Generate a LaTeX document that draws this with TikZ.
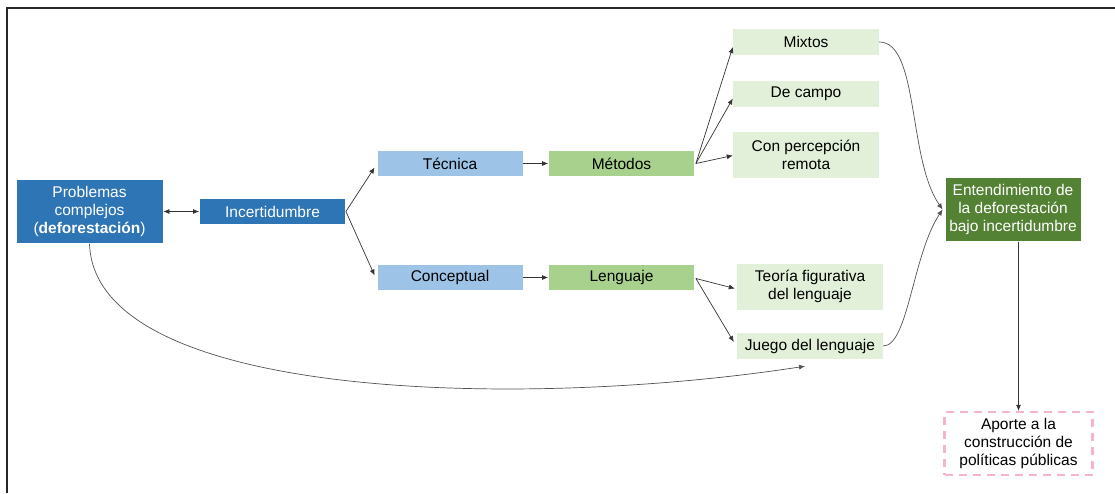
\documentclass[tikz,border=0pt]{standalone}
\usepackage{fontspec}
\setmainfont{Liberation Sans}
\usetikzlibrary{arrows.meta}
\definecolor{cblue}{HTML}{2E75B6}
\definecolor{clblue}{HTML}{9DC3E6}
\definecolor{cgreen}{HTML}{A9D18E}
\definecolor{clgreen}{HTML}{E2F0D9}
\definecolor{cdgreen}{HTML}{548235}
\definecolor{cpink}{HTML}{F2B6C8}
\definecolor{cline}{HTML}{333333}
\tikzset{
  box/.style={inner sep=0pt, align=center, font=\fontsize{15.5}{18}\selectfont, minimum width=146pt, minimum height=26pt},
  bluebox/.style={box, fill=cblue, draw=white, line width=0.8pt, text=white},
  lbluebox/.style={box, fill=clblue, draw=white, line width=0.8pt},
  greenbox/.style={box, fill=cgreen, draw=white, line width=0.8pt},
  lgreenbox/.style={box, fill=clgreen},
  dgreenbox/.style={box, fill=cdgreen, draw=white, line width=0.8pt, text=white},
  pinkbox/.style={box, draw=cpink, line width=2.4pt, dash pattern=on 8pt off 6pt},
  conn/.style={draw=cline, line width=0.7pt, -{Latex[length=6pt,width=5pt]}},
  curv/.style={draw=cline!85!white, line width=0.7pt, -{Latex[length=6pt,width=5pt]}}
}
\begin{document}
\begin{tikzpicture}[x=1pt,y=-1pt]
\useasboundingbox (0,0) rectangle (1115,493);
\draw[line width=1.6pt, color=black!85] (7,493) -- (7,8) -- (1115,8);

\node[bluebox, minimum width=147pt, minimum height=64pt] (prob) at (89.5,211.5) {Problemas\\complejos\\(\textbf{deforestación})};
\node[bluebox] (inc) at (272.5,211.5) {Incertidumbre};
\node[lbluebox] (tec) at (450,163.5) {Técnica};
\node[greenbox] (met) at (621.5,163.5) {Métodos};
\node[lbluebox] (con) at (450,277.5) {Conceptual};
\node[greenbox] (len) at (621.5,277.5) {Lenguaje};
\node[lgreenbox] (mix) at (806,42) {Mixtos};
\node[lgreenbox] (cam) at (806,93.5) {De campo};
\node[lgreenbox, minimum height=46pt] (rem) at (806,154.5) {Con percepción\\remota};
\node[lgreenbox, minimum height=46pt] (teo) at (810,286.5) {Teoría figurativa\\del lenguaje};
\node[lgreenbox] (jue) at (810,346) {Juego del lenguaje};
\node[dgreenbox, minimum width=136pt, minimum height=64pt] (ent) at (1013,209.5) {Entendimiento de\\la deforestación\\bajo incertidumbre};
\node[pinkbox, minimum width=148pt, minimum height=63pt] (apo) at (1018.5,443.5) {Aporte a la\\construcción de\\políticas públicas};

\draw[conn, {Latex[length=6pt,width=5pt]}-{Latex[length=6pt,width=5pt]}] (prob.east) -- (inc.west);
\draw[conn] (inc.east) -- ([yshift=-4pt,xshift=-2pt]tec.west);
\draw[conn] (inc.east) -- ([yshift=2pt,xshift=-2pt]con.west);
\draw[conn] (tec) -- (met);
\draw[conn] (con) -- (len);
\coordinate (ms) at ([xshift=1pt,yshift=0pt]met.east);
\draw[conn] (ms) -- ([yshift=-5pt]mix.west);
\draw[conn] (ms) -- ([yshift=-5pt]cam.west);
\draw[conn] (ms) -- ([yshift=-1pt]rem.west);
\coordinate (ls) at ([xshift=1pt,yshift=-1pt]len.east);
\draw[conn] (ls) -- ([yshift=-2pt,xshift=-2pt]teo.west);
\draw[conn] (ls) -- ([yshift=4pt,xshift=-3pt]jue.west);
\draw[curv] (mix.east) .. controls +(40,0) and +(-35,-50) .. ([xshift=-2pt]ent.west);
\draw[curv] (jue.east) .. controls +(25,0) and +(-30,45) .. ([xshift=-2pt]ent.west);
\draw[curv] (prob.south) .. controls (95,400) and (520,410) .. ([xshift=-5pt,yshift=-7pt]jue.south);
\draw[conn] (ent.south -| apo.north) -- (apo.north);
\end{tikzpicture}
\end{document}
